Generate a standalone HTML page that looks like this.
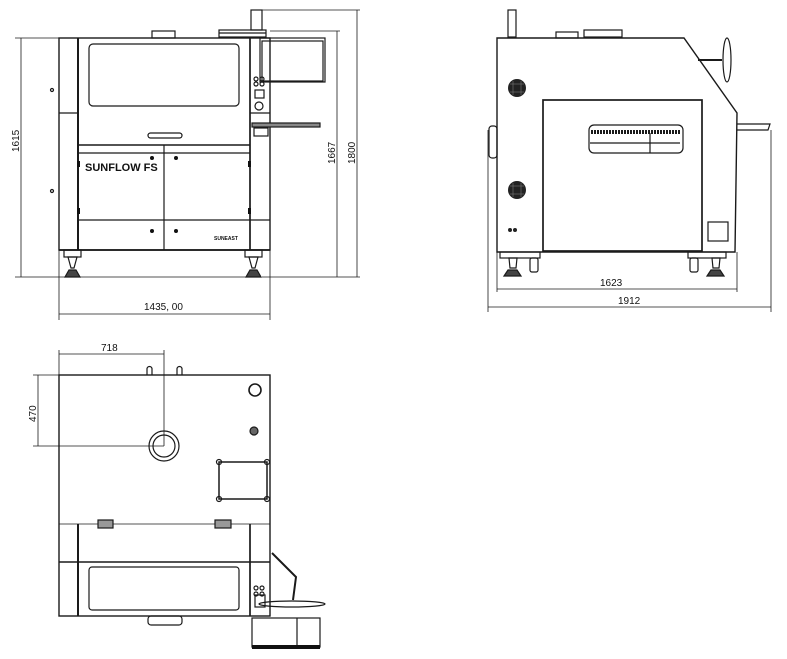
<!DOCTYPE html>
<html><head><meta charset="utf-8"><style>
html,body{margin:0;padding:0;background:#fff;}
svg{display:block;}
text{font-family:"Liberation Sans",sans-serif;fill:#111;}
</style></head><body>
<svg width="787" height="659" viewBox="0 0 787 659" xmlns="http://www.w3.org/2000/svg">
<g fill="none" stroke="#1a1a1a" stroke-width="1.2">
<!-- ===== FRONT VIEW ===== -->
<line x1="15" y1="38" x2="59" y2="38" stroke-width="0.8"/>
<line x1="15" y1="277" x2="250" y2="277" stroke-width="0.8"/>
<line x1="21" y1="38" x2="21" y2="277" stroke-width="0.8"/>
<line x1="251" y1="10" x2="360" y2="10" stroke-width="0.8"/>
<line x1="270" y1="31" x2="340" y2="31" stroke-width="0.8"/>
<line x1="262" y1="277" x2="360" y2="277" stroke-width="0.8"/>
<line x1="337" y1="31" x2="337" y2="277" stroke-width="0.8"/>
<line x1="357" y1="10" x2="357" y2="277" stroke-width="0.8"/>
<line x1="59" y1="250" x2="59" y2="320" stroke-width="0.8"/>
<line x1="270" y1="250" x2="270" y2="320" stroke-width="0.8"/>
<line x1="59" y1="314" x2="270" y2="314" stroke-width="0.8"/>
<rect x="59" y="38" width="211" height="212" stroke-width="1.4"/>
<line x1="78" y1="38" x2="78" y2="250" stroke-width="2"/>
<line x1="250" y1="38" x2="250" y2="250" stroke-width="1.7"/>
<line x1="59" y1="113" x2="78" y2="113"/>
<rect x="89" y="44" width="150" height="62" rx="4"/>
<line x1="78" y1="145" x2="250" y2="145" stroke-width="1.5"/>
<line x1="78" y1="153" x2="250" y2="153"/>
<line x1="164" y1="145" x2="164" y2="250"/>
<line x1="78" y1="220" x2="270" y2="220"/>
<rect x="148" y="133" width="34" height="5" rx="2.5"/>
<line x1="59" y1="250" x2="270" y2="250" stroke-width="1.7"/>
<rect x="152" y="31" width="23" height="7"/>
<rect x="219" y="30" width="47" height="7"/>
<line x1="219" y1="33" x2="266" y2="33"/>
<rect x="251" y="10" width="11" height="20"/>
<rect x="260" y="38" width="65" height="44"/>
<rect x="262" y="41" width="61" height="40"/>
<circle cx="256" cy="79" r="2"/><circle cx="262" cy="79" r="2"/>
<circle cx="256" cy="84" r="2"/><circle cx="262" cy="84" r="2"/>
<rect x="255" y="90" width="9" height="8"/>
<circle cx="259" cy="106" r="4"/>
<line x1="250" y1="113" x2="270" y2="113"/>
<rect x="252" y="123" width="68" height="4" fill="#888"/>
<rect x="254" y="128" width="14" height="8"/>
<circle cx="52" cy="90" r="1.5"/><circle cx="52" cy="191" r="1.5"/>
<rect x="64" y="250" width="17" height="7"/><path d="M68 257 L77 257 L74 268 L71 268 Z"/><path d="M65 277 L80 277 L76 270 L69 270 Z" fill="#444"/>
<rect x="245" y="250" width="17" height="7"/><path d="M249 257 L258 257 L255 268 L252 268 Z"/><path d="M246 277 L261 277 L257 270 L250 270 Z" fill="#444"/>
</g>
<g fill="#111">
<circle cx="152" cy="158" r="2"/><circle cx="176" cy="158" r="2"/>
<circle cx="152" cy="231" r="2"/><circle cx="176" cy="231" r="2"/>
<rect x="77" y="161" width="3" height="6"/><rect x="248" y="161" width="3" height="6"/>
<rect x="77" y="208" width="3" height="6"/><rect x="248" y="208" width="3" height="6"/>
</g>
<text x="85" y="171" font-size="11" font-weight="bold">SUNFLOW FS</text>
<text x="214" y="240" font-size="5" font-weight="bold">SUNEAST</text>
<text x="0" y="0" font-size="10" transform="translate(19,152) rotate(-90)">1615</text>
<text x="0" y="0" font-size="10" transform="translate(335,164) rotate(-90)">1667</text>
<text x="0" y="0" font-size="10" transform="translate(355,164) rotate(-90)">1800</text>
<text x="144" y="310" font-size="10">1435, 00</text>

<!-- ===== SIDE VIEW ===== -->
<g fill="none" stroke="#1a1a1a" stroke-width="1.2">
<path d="M497 38 L684 38 L737 113 L735 252 L497 252 Z" stroke-width="1.4"/>
<rect x="543" y="100" width="159" height="151" stroke-width="1.7"/>
<rect x="589" y="125" width="94" height="28" rx="5"/>
<line x1="591" y1="132" x2="681" y2="132" stroke-width="4" stroke-dasharray="2 1"/>
<line x1="590" y1="143" x2="680" y2="143"/>
<line x1="650" y1="133" x2="650" y2="153"/>
<rect x="489" y="126" width="8" height="32" rx="3"/>
<rect x="708" y="222" width="20" height="19"/>
<line x1="698" y1="60" x2="722" y2="60" stroke-width="2"/>
<ellipse cx="727" cy="60" rx="4" ry="22"/>
<path d="M737 124 L770 124 L768 130 L737 130"/>
<rect x="508" y="10" width="8" height="27"/>
<rect x="556" y="32" width="22" height="6"/>
<rect x="584" y="30" width="38" height="7"/>
<rect x="500" y="252" width="40" height="6"/>
<path d="M509 258 L517 258 L516 268 L510 268 Z"/><path d="M504 276 L521 276 L517 270 L508 270 Z" fill="#444"/>
<rect x="530" y="258" width="8" height="14" rx="2"/>
<rect x="688" y="252" width="38" height="6"/>
<rect x="690" y="258" width="8" height="14" rx="2"/>
<path d="M712 258 L720 258 L719 268 L713 268 Z"/><path d="M707 276 L724 276 L720 270 L711 270 Z" fill="#444"/>
<line x1="497" y1="252" x2="497" y2="292" stroke-width="0.8"/>
<line x1="737" y1="252" x2="737" y2="292" stroke-width="0.8"/>
<line x1="488" y1="130" x2="488" y2="312" stroke-width="0.8"/>
<line x1="771" y1="130" x2="771" y2="312" stroke-width="0.8"/>
<line x1="497" y1="289" x2="737" y2="289" stroke-width="0.8"/>
<line x1="488" y1="307" x2="771" y2="307" stroke-width="0.8"/>
</g>
<g fill="#222">
<circle cx="517" cy="88" r="9"/><circle cx="517" cy="190" r="9"/>
<circle cx="510" cy="230" r="2"/><circle cx="515" cy="230" r="2"/>
</g>
<g stroke="#777" stroke-width="0.6">
<line x1="510" y1="84" x2="524" y2="84"/><line x1="510" y1="92" x2="524" y2="92"/><line x1="513" y1="81" x2="513" y2="95"/><line x1="521" y1="81" x2="521" y2="95"/>
<line x1="510" y1="186" x2="524" y2="186"/><line x1="510" y1="194" x2="524" y2="194"/><line x1="513" y1="183" x2="513" y2="197"/><line x1="521" y1="183" x2="521" y2="197"/>
</g>
<text x="600" y="286" font-size="10">1623</text>
<text x="618" y="304" font-size="10">1912</text>

<!-- ===== TOP VIEW ===== -->
<g fill="none" stroke="#1a1a1a" stroke-width="1.2">
<rect x="59" y="375" width="211" height="241" stroke-width="1.4"/>
<line x1="59" y1="524" x2="270" y2="524" stroke-width="0.8"/>
<line x1="59" y1="562" x2="270" y2="562" stroke-width="1.5"/>
<line x1="78" y1="524" x2="78" y2="616" stroke-width="2"/>
<line x1="250" y1="524" x2="250" y2="616" stroke-width="1.7"/>
<rect x="89" y="567" width="150" height="43" rx="3"/>
<rect x="148" y="616" width="34" height="9" rx="3"/>
<circle cx="164" cy="446" r="15"/><circle cx="164" cy="446" r="11"/>
<path d="M147 375 L147 369 A2.5 2.5 0 0 1 152 369 L152 375"/>
<path d="M177 375 L177 369 A2.5 2.5 0 0 1 182 369 L182 375"/>
<circle cx="255" cy="390" r="6" stroke-width="1.6"/>
<circle cx="254" cy="431" r="4" fill="#666"/>
<rect x="219" y="462" width="48" height="37" stroke-width="1.5"/>
<circle cx="219" cy="462" r="2.5"/><circle cx="267" cy="462" r="2.5"/>
<circle cx="219" cy="499" r="2.5"/><circle cx="267" cy="499" r="2.5"/>
<rect x="98" y="520" width="15" height="8" fill="#999"/>
<rect x="215" y="520" width="16" height="8" fill="#999"/>
<line x1="59" y1="350" x2="59" y2="375" stroke-width="0.8"/>
<line x1="164" y1="350" x2="164" y2="446" stroke-width="0.8"/>
<line x1="59" y1="354" x2="164" y2="354" stroke-width="0.8"/>
<line x1="33" y1="375" x2="59" y2="375" stroke-width="0.8"/>
<line x1="33" y1="446" x2="164" y2="446" stroke-width="0.8"/>
<line x1="38" y1="375" x2="38" y2="446" stroke-width="0.8"/>
<path d="M272 553 L296 577 L293 600" stroke-width="2"/>
<ellipse cx="292" cy="604" rx="33" ry="3"/>
<rect x="255" y="595" width="10" height="12"/>
<circle cx="256" cy="588" r="2"/><circle cx="262" cy="588" r="2"/>
<circle cx="256" cy="594" r="2"/><circle cx="262" cy="594" r="2"/>
<rect x="252" y="618" width="68" height="29"/>
<line x1="297" y1="618" x2="297" y2="647"/>
</g>
<rect x="252" y="645" width="68" height="4" fill="#111"/>
<text x="101" y="351" font-size="10">718</text>
<text x="0" y="0" font-size="10" transform="translate(36,422) rotate(-90)">470</text>
</svg>
</body></html>
